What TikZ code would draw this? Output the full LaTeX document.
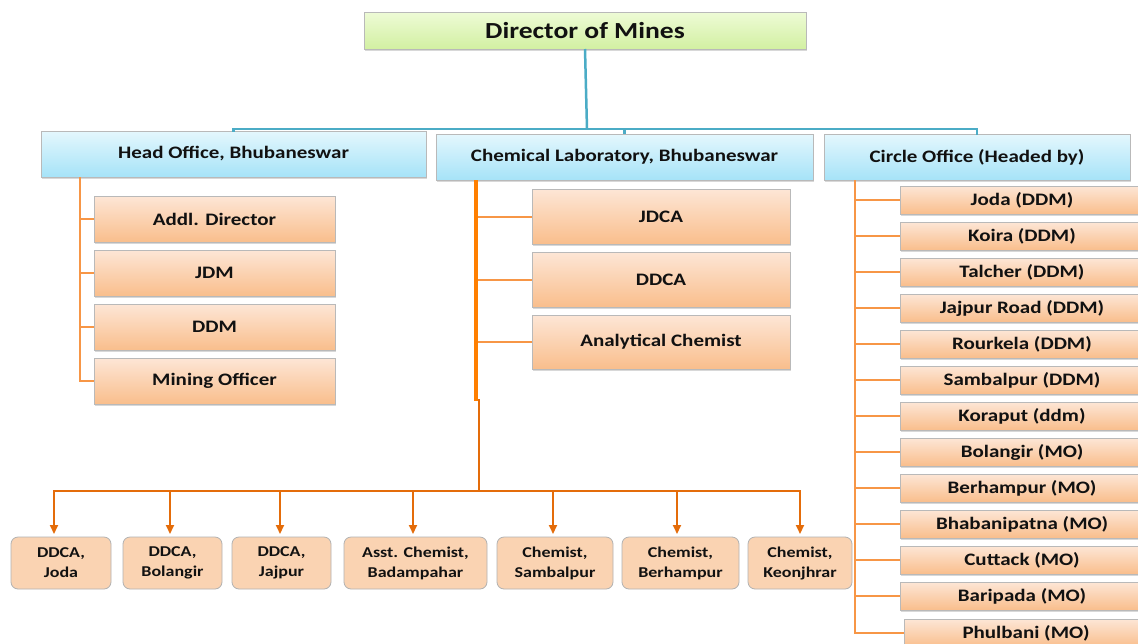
\documentclass[tikz,border=0pt]{standalone}
\usepackage{fontspec}
\setmainfont{Carlito}[FakeStretch=1.2]
\usetikzlibrary{shadows,arrows.meta}
\definecolor{gtop}{HTML}{EEFBD6}
\definecolor{gbot}{HTML}{D2F0A2}
\definecolor{btop}{HTML}{E4F7FD}
\definecolor{bbot}{HTML}{A6E3F8}
\definecolor{otop}{HTML}{FDE6D6}
\definecolor{obot}{HTML}{F9BE8C}
\definecolor{peach}{HTML}{FAD3B2}
\definecolor{blueln}{HTML}{4BACC6}
\definecolor{orln}{HTML}{F79646}
\definecolor{darkor}{HTML}{E46C0A}
\definecolor{brightor}{HTML}{FF7F00}
\definecolor{txt}{HTML}{111111}
\tikzset{
  base/.style={rectangle, draw=gray!55, line width=0.8pt, inner sep=0pt, outer sep=0pt, anchor=north west, text=txt,
     drop shadow={shadow xshift=1pt, shadow yshift=-1.5pt, fill=gray!60, opacity=0.5}},
  dirbox/.style={base, top color=gtop, bottom color=gbot, font=\fontsize{23}{27}\selectfont\bfseries},
  hdrbox/.style={base, top color=btop, bottom color=bbot, font=\fontsize{17.5}{20}\selectfont\bfseries},
  obox/.style={base, top color=otop, bottom color=obot, font=\fontsize{17.5}{20}\selectfont\bfseries},
  cbox/.style={base, top color=otop, bottom color=obot, minimum width=244pt, minimum height=28pt, font=\fontsize{17.5}{20}\selectfont\bfseries},
  rbox/.style={rectangle, rounded corners=7pt, draw=gray!60, line width=0.8pt, fill=peach, inner sep=0pt, outer sep=0pt,
     anchor=north west, minimum height=52pt, align=center, text=txt, font=\fontsize{15}{20}\selectfont\bfseries},
  bln/.style={draw=blueln, line width=2.5pt},
  oln/.style={draw=orln, line width=2pt},
  arr/.style={draw=darkor, line width=2pt, shorten >=3pt, -{Triangle[length=9pt,width=8pt]}},
}
\begin{document}
\begin{tikzpicture}[x=1pt,y=-1pt]
\useasboundingbox (0,0) rectangle (1138,643);
\clip (0,0) rectangle (1138,643);
\fill[white] (0,0) rectangle (1138,643);

% top
\node[dirbox, minimum width=442pt, minimum height=37pt] (dir) at (364,12) {Director of Mines};
\node[hdrbox, minimum width=385pt, minimum height=46pt] (ho) at (41,131) {Head Office, Bhubaneswar};
\node[hdrbox, minimum width=377pt, minimum height=46pt] (cl) at (436,134) {Chemical Laboratory, Bhubaneswar};
\node[hdrbox, minimum width=306pt, minimum height=46pt] (co) at (824,134) {Circle Office (Headed by)};

\coordinate (j) at (587,129);
\draw[bln] (dir.south) -- (j);
\draw[bln, line cap=rect] (ho.north) |- (j) -| (co.north);
\draw[bln] (cl.north) -- ++(0,-5);

% head office
\node[obox, minimum width=241pt, minimum height=46pt] (ad) at (94,196) {Addl. Director};
\node[obox, minimum width=241pt, minimum height=46pt] (jdm) at (94,250) {JDM};
\node[obox, minimum width=241pt, minimum height=46pt] (ddm) at (94,304) {DDM};
\node[obox, minimum width=241pt, minimum height=46pt] (mo) at (94,358) {Mining Officer};
\coordinate (hot) at (80,177);
\draw[oln] (hot) |- (mo.west);
\foreach \n in {ad,jdm,ddm} \draw[oln] (hot |- \n.west) -- (\n.west);

% chemical lab
\node[obox, minimum width=258pt, minimum height=55pt] (jdca) at (532,189) {JDCA};
\node[obox, minimum width=258pt, minimum height=55pt] (ddca) at (532,252) {DDCA};
\node[obox, minimum width=258pt, minimum height=54pt] (ach) at (532,315) {Analytical Chemist};
\coordinate (clt) at (476,180);
\coordinate (clm) at (476,401);
\coordinate (bus) at (479,491);
\foreach \n in {jdca,ddca,ach} \draw[oln] (clt |- \n.west) -- (\n.west);
\draw[draw=brightor, line width=4.5pt] (clt) -- (clm);
\draw[draw=darkor, line width=2.5pt] (479,399) -- (bus);

% bottom row
\node[rbox, minimum width=100pt] (b1) at (11,537) {DDCA,\\Joda};
\node[rbox, minimum width=99pt] (b2) at (123,537) {DDCA,\\Bolangir};
\node[rbox, minimum width=99pt] (b3) at (232,537) {DDCA,\\Jajpur};
\node[rbox, minimum width=143pt] (b4) at (344,537) {Asst. Chemist,\\Badampahar};
\node[rbox, minimum width=116pt] (b5) at (497,537) {Chemist,\\Sambalpur};
\node[rbox, minimum width=117pt] (b6) at (622,537) {Chemist,\\Berhampur};
\node[rbox, minimum width=104pt] (b7) at (748,537) {Chemist,\\Keonjhrar};
\coordinate (a1) at (54,491);
\coordinate (a2) at (170,491);
\coordinate (a3) at (280,491);
\coordinate (a4) at (413,491);
\coordinate (a5) at (553,491);
\coordinate (a6) at (677,491);
\coordinate (a7) at (800,491);
\draw[draw=darkor, line width=2pt, line cap=rect] (a1) -- (a7);
\foreach \i in {1,...,7} \draw[arr] (a\i) -- (a\i |- b\i.north);

% circle office
\node[cbox] (c1) at (900,186) {Joda (DDM)};
\node[cbox] (c2) at (900,222) {Koira (DDM)};
\node[cbox] (c3) at (900,258) {Talcher (DDM)};
\node[cbox] (c4) at (900,294) {Jajpur Road (DDM)};
\node[cbox] (c5) at (900,330) {Rourkela (DDM)};
\node[cbox] (c6) at (900,366) {Sambalpur (DDM)};
\node[cbox] (c7) at (900,402) {Koraput (ddm)};
\node[cbox] (c8) at (900,438) {Bolangir (MO)};
\node[cbox] (c9) at (900,474) {Berhampur (MO)};
\node[cbox] (c10) at (900,510) {Bhabanipatna (MO)};
\node[cbox] (c11) at (900,546) {Cuttack (MO)};
\node[cbox] (c12) at (900,582) {Baripada (MO)};
\node[cbox] (c13) at (904,619) {Phulbani (MO)};
\coordinate (cot) at (855,180);
\draw[oln] (cot) |- (c13.west);
\foreach \i in {1,...,12} \draw[oln] (cot |- c\i.west) -- (c\i.west);
\end{tikzpicture}
\end{document}
